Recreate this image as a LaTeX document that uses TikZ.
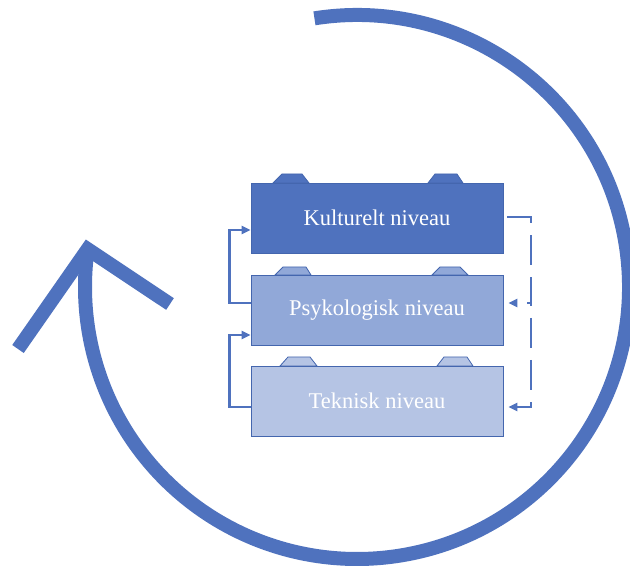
\documentclass[tikz,border=0pt]{standalone}
\usepackage{fontspec}
\setmainfont{Liberation Serif}
\usetikzlibrary{arrows.meta}
\definecolor{ringblue}{HTML}{4F72BE}
\definecolor{kfill}{HTML}{4F72BE}
\definecolor{pfill}{HTML}{91A8D8}
\definecolor{tfill}{HTML}{B5C4E4}
\definecolor{edgeblue}{HTML}{4466AE}
\tikzset{
  ring/.style={draw=ringblue, line width=14pt, line cap=butt},
  level/.style={rectangle, draw=edgeblue, line width=0.8pt, minimum width=252pt, minimum height=70pt, inner sep=0pt, text=white, font=\fontsize{22.5}{27}\selectfont},
  tabk/.style={draw=edgeblue, line width=0.8pt, fill=kfill},
  tabp/.style={draw=edgeblue, line width=0.8pt, fill=pfill},
  tabt/.style={draw=edgeblue, line width=0.8pt, fill=tfill},
  conn/.style={draw=ringblue, line width=2.5pt, -{Triangle[length=9pt,width=8pt]}},
  dconn/.style={conn, dash pattern=on 30pt off 12pt},
}
\begin{document}
\begin{tikzpicture}[x=1pt,y=1pt]
\useasboundingbox (0,0) rectangle (630,566);
% big cycle arrow
\draw[ring] (357,279) ++(99:272) arc[start angle=99, end angle=-188, radius=272];
\coordinate (apex) at (87.65,316.85);
\coordinate (armL) at (18,217);
\coordinate (armR) at (170,262);
\draw[ring, line join=miter] (armL) -- (apex) -- (armR);
% tabs
\path[tabk] (273,383) -- (282,392) -- (302,392) -- (309,383) -- cycle;
\path[tabk] (428,383) -- (435,392) -- (457,392) -- (463,383) -- cycle;
\path[tabp] (275,291) -- (283,299) -- (306,299) -- (311,291) -- cycle;
\path[tabp] (432,291) -- (440,299) -- (460,299) -- (468,291) -- cycle;
\path[tabt] (280,200) -- (288,209) -- (310,209) -- (317,200) -- cycle;
\path[tabt] (437,200) -- (444,209) -- (467,209) -- (473,200) -- cycle;
% boxes
\node[level, fill=kfill] (k) at (377,348) {Kulturelt niveau};
\node[level, fill=pfill] (p) at (377,256) {Psykologisk niveau};
\node[level, fill=tfill] (t) at (377,165) {Teknisk niveau};
% left connectors
\draw[conn] ([yshift=7pt]p.west) -- ++(-21,0) |- ([yshift=-12pt]k.west);
\draw[conn] ([yshift=-6pt]t.west) -- ++(-21,0) |- ([yshift=-25pt]p.west);
% right dashed connectors
\coordinate (rmid) at (531,263);
\draw[dconn, shorten >=5pt] ([xshift=4pt,yshift=1pt]k.east) -| (rmid) -- ([yshift=7pt]p.east);
\draw[dconn, shorten >=5pt, dash phase=27pt] (rmid) |- ([yshift=-6pt]t.east);
\end{tikzpicture}
\end{document}
